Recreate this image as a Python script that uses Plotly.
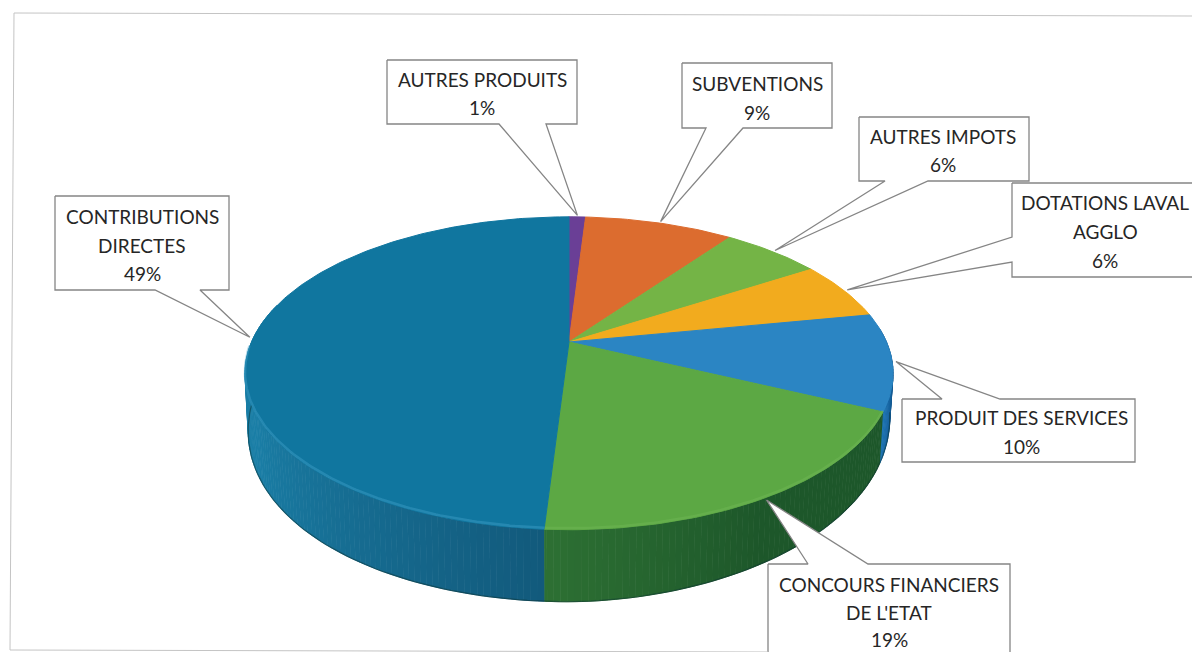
import numpy as np
import plotly.graph_objects as go

# Budget shares, clockwise from twelve o'clock
categories = ["AUTRES PRODUITS", "SUBVENTIONS", "AUTRES IMPOTS", "DOTATIONS LAVAL AGGLO",
              "PRODUIT DES SERVICES", "CONCOURS FINANCIERS DE L'ETAT", "CONTRIBUTIONS DIRECTES"]
shares = [1, 9, 6, 6, 10, 19, 49]
top_colors = ["#6a3f96", "#dc6c2f", "#74b446", "#f2ab1e", "#2b85c3", "#5ca844", "#10769f"]

# Label rows: wrapped name lines, the percentage is appended from shares
label_lines = [["AUTRES PRODUITS"], ["SUBVENTIONS"], ["AUTRES IMPOTS"], ["DOTATIONS LAVAL", "AGGLO"],
               ["PRODUIT DES SERVICES"], ["CONCOURS FINANCIERS", "DE L'ETAT"], ["CONTRIBUTIONS", "DIRECTES"]]

# Perspective disc on a pixel-sized plot area
CX, CY, A, B, K = 569.0, 342.0, 317.5, 150.2, 0.2
W, H = 1192, 652


def wall_drop(t):
    t = np.asarray(t, dtype=float)
    right = 72 - 21 * (np.clip(180 - t, 0, None) / 65.0) ** 1.5
    left = 72 - 20 * (np.clip(t - 180, 0, None) / 90.0) ** 2.5
    return np.where(t < 180, right, left)


def project(theta_deg, drop=False):
    t = np.radians(np.asarray(theta_deg, dtype=float))
    d = 1 + K * np.cos(t)
    x = A * np.sin(t) / d
    y = -B * np.cos(t) / d
    if drop:
        return CX + 0.99 * x, CY + y + wall_drop(theta_deg)
    return CX + x, CY + y


def mix(c1, c2, f):
    a = [int(c1[i:i + 2], 16) for i in (1, 3, 5)]
    b = [int(c2[i:i + 2], 16) for i in (1, 3, 5)]
    return "rgb(%d,%d,%d)" % tuple(round(p + (q - p) * f) for p, q in zip(a, b))


def polygon(xs, ys, fill, line=None, width=1):
    return go.Scatter(x=list(xs), y=list(ys), mode="lines", fill="toself", fillcolor=fill,
                      line=dict(color=line or fill, width=width), hoverinfo="skip", showlegend=False)


edges = np.concatenate([[0], np.cumsum(shares)]) * 3.6
fig = go.Figure()

# Outer wall, built from narrow shaded strips
wall_ramp = {4: ("#0f4f86", "#1c74b4"), 5: ("#1d572a", "#2d7033"), 6: ("#125a7c", "#1a7ea6")}
for idx, (dark, light) in wall_ramp.items():
    lo, hi = edges[idx], edges[idx + 1]
    lo_v, hi_v = max(lo, 85), min(hi, 285)
    for s in np.arange(lo_v, hi_v, 1.0):
        e = min(s + 1.0, hi_v)
        th = np.array([s, e])
        tx, ty = project(th)
        bx, by = project(th[::-1], drop=True)
        if idx == 6:
            f = np.clip((s - lo) / 60.0, 0, 1)
        elif idx == 5:
            f = np.clip((s - 150) / 33.0, 0, 1)
        else:
            f = np.clip((s - 100) / 15.0, 0, 1)
        fig.add_trace(polygon(np.r_[tx, bx], np.r_[ty, by], mix(dark, light, float(f))))

# Dark lower edge of the wall
th = np.linspace(100, 285, 160)
bx, by = project(th, drop=True)
fig.add_trace(go.Scatter(x=bx, y=by, mode="lines", line=dict(color="rgba(10,50,50,0.5)", width=1.2),
                         hoverinfo="skip", showlegend=False))

# Top face sectors
for i, col in enumerate(top_colors):
    th = np.linspace(edges[i], edges[i + 1], max(int(shares[i] * 3.6), 4) + 1)
    x, y = project(th)
    fig.add_trace(polygon(np.r_[CX, x, CX], np.r_[CY, y, CY], col))

# Soft bevel along the front of the top face
bevels = [(5, "rgba(140,205,110,0.2)"), (6, "rgba(70,165,205,0.4)")]
for idx, col in bevels:
    th = np.linspace(max(edges[idx], 105), min(edges[idx + 1], 268), 120)
    x, y = project(th)
    fig.add_trace(go.Scatter(x=x, y=y - 1.5, mode="lines", line=dict(color=col, width=2.5),
                             hoverinfo="skip", showlegend=False))

# Callouts: box corners plus the two base points of the pointer, tip just past the slice's mid angle
BORDER = "#858585"
callouts = [
    dict(box=(387, 60, 577, 124), side="bottom", base=(499, 546), cx=482, rows=(79, 107)),
    dict(box=(682, 63, 832, 128), side="bottom", base=(706, 743), cx=757, rows=(83, 112)),
    dict(box=(859, 117, 1029, 181), side="bottom", base=(885, 928), cx=943, rows=(136, 164)),
    dict(box=(1012, 183, 1230, 277), side="left", base=(237, 262), cx=1105, rows=(202, 231, 260)),
    dict(box=(902, 399, 1135, 462), side="top", base=(942, 1000), cx=1021, rows=(417, 446)),
    dict(box=(768, 564, 1010, 690), side="top", base=(808, 868), cx=889, rows=(584, 612, 639)),
    dict(box=(55, 196, 229, 290), side="bottom", base=(155, 200), cx=142, rows=(216, 245, 273)),
]

annotations = []
for i, c in enumerate(callouts):
    mid = (edges[i] + edges[i + 1]) / 2
    tx, ty = project(mid)
    tx, ty = CX + 1.012 * (float(tx) - CX), CY + 1.012 * (float(ty) - CY)
    x0, y0, x1, y1 = c["box"]
    b0, b1 = c["base"]
    if c["side"] == "bottom":
        xs = [x0, x1, x1, b1, tx, b0, x0, x0]
        ys = [y0, y0, y1, y1, ty, y1, y1, y0]
    elif c["side"] == "top":
        xs = [x0, b0, tx, b1, x1, x1, x0, x0]
        ys = [y0, y0, ty, y0, y0, y1, y1, y0]
    else:
        xs = [x0, x1, x1, x0, x0, tx, x0, x0]
        ys = [y0, y0, y1, y1, b1, ty, b0, y0]
    fig.add_trace(polygon(xs, ys, "#ffffff", BORDER, 1.3))
    rows = label_lines[i] + [f"{shares[i]}%"]
    for text, y in zip(rows, c["rows"]):
        annotations.append(dict(x=c["cx"], y=y, text=text, showarrow=False, xanchor="center", yanchor="middle",
                                font=dict(family="Lato", size=19, color="#262626")))

# Faint outline of the chart frame
frame_x = [1192, 14, 10, 768]
frame_y = [16, 13, 650, 652]
fig.add_trace(go.Scatter(x=frame_x, y=frame_y, mode="lines", line=dict(color="#c4c4c4", width=1),
                         hoverinfo="skip", showlegend=False))

fig.update_layout(
    width=W, height=H, margin=dict(l=0, r=0, t=0, b=0), showlegend=False,
    paper_bgcolor="#ffffff", plot_bgcolor="#ffffff", annotations=annotations,
    xaxis=dict(range=[0, W], visible=False, fixedrange=True),
    yaxis=dict(range=[H, 0], visible=False, fixedrange=True),
)
fig.write_html("out.html", config=dict(displayModeBar=False))
